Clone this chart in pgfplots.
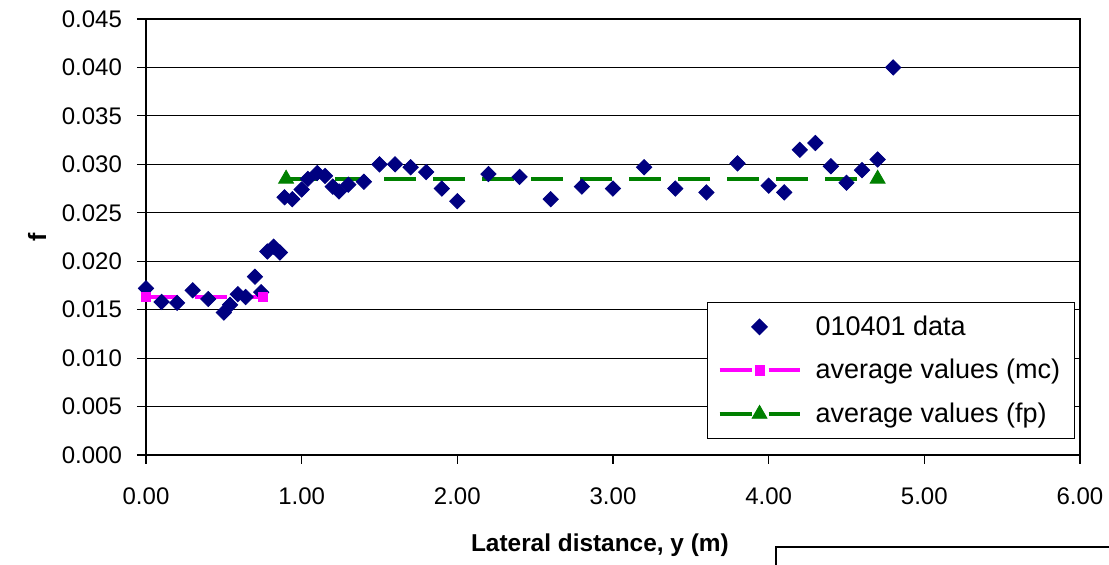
\documentclass[border=0pt]{standalone}
\usepackage{fontspec}
\setmainfont{Liberation Sans}
\usepackage{pgfplots}
\pgfplotsset{compat=1.18}
\definecolor{navy}{HTML}{000080}
\definecolor{mag}{HTML}{FF00FF}
\definecolor{grn}{HTML}{008000}
\begin{document}
\begin{tikzpicture}
\begin{axis}[
  scale only axis, width=467pt, height=218pt,
  xmin=0, xmax=6, ymin=0, ymax=0.045,
  xtick={0,1,2,3,4,5,6},
  ytick={0,0.005,0.010,0.015,0.020,0.025,0.030,0.035,0.040,0.045},
  /pgf/number format/assume math mode=true,
  xticklabel style={/pgf/number format/fixed, /pgf/number format/fixed zerofill, /pgf/number format/precision=2},
  yticklabel style={/pgf/number format/fixed, /pgf/number format/fixed zerofill, /pgf/number format/precision=3},
  scaled y ticks=false,
  ymajorgrids, grid style={black, line width=0.6pt},
  axis line style={black, line width=0.7pt},
  tick align=outside, xtick pos=bottom, ytick pos=left,
  major tick length=4.5pt, tick style={black, line width=0.6pt},
  ticklabel style={font=\fontsize{12}{14}\selectfont},
  xticklabel style={anchor=center, yshift=-16pt},
  yticklabel style={anchor=east, xshift=-4pt},
  xlabel={Lateral distance, y (m)},
  ylabel={f},
  every axis x label/.style={at={(axis description cs:0.486,-0.206)}, anchor=center, font=\fontsize{12.2}{14}\selectfont\bfseries},
  every axis y label/.style={at={(axis description cs:-0.1167,0.5)}, rotate=90, anchor=center, font=\fontsize{12.5}{14}\selectfont\bfseries},
  legend style={at={(0.6006,0.3509)}, anchor=north west, draw=black, line width=0.6pt, fill=white,
    font=\fontsize{13.5}{15}\selectfont, row sep=6.5pt, inner xsep=5pt, inner ysep=4.5pt,
    /tikz/every odd column/.append style={column sep=5pt}},
  legend cell align=left,
  legend image code/.code={\draw[mark repeat=2,mark phase=2,#1] plot coordinates {(0pt,0pt) (20pt,0pt) (40pt,0pt)};},
]
\addplot[only marks, mark=square*, mark size=2.7pt, mark options={rotate=45, fill=navy, draw=navy}, color=navy] coordinates {
(0.00,0.0172) (0.10,0.0158) (0.20,0.0157) (0.30,0.0170) (0.40,0.0161) (0.50,0.0147) (0.54,0.0155)
(0.59,0.0166) (0.64,0.0163) (0.70,0.0184) (0.74,0.0168) (0.78,0.0210) (0.82,0.0215) (0.86,0.0209)
(0.89,0.0266) (0.94,0.0264) (1.00,0.0274) (1.04,0.0285) (1.10,0.0291) (1.15,0.0288) (1.20,0.0277)
(1.24,0.0272) (1.30,0.0279) (1.40,0.0282) (1.50,0.0300) (1.60,0.0300) (1.70,0.0297) (1.80,0.0292)
(1.90,0.0275) (2.00,0.0262) (2.20,0.0290) (2.40,0.0287) (2.60,0.0264) (2.80,0.0277) (3.00,0.0275)
(3.20,0.0297) (3.40,0.0275) (3.60,0.0271) (3.80,0.0301) (4.00,0.0278) (4.10,0.0271) (4.20,0.0315)
(4.30,0.0322) (4.40,0.0298) (4.50,0.0281) (4.60,0.0294) (4.70,0.0305) (4.80,0.0400)
};
\addlegendentry{010401 data}
\addplot[color=mag, line width=2pt, dash pattern=on 16pt off 8.5pt, mark=square*, mark size=2.3pt, mark options={solid, fill=mag, line width=0.4pt}] coordinates {
(0.00,0.01635) (0.75,0.01635)
};
\addlegendentry{average values (mc)}
\addplot[color=grn, line width=2pt, dash pattern=on 16pt off 8.5pt, mark=triangle*, mark size=4.3pt, mark options={solid, fill=grn, line width=0.4pt}] coordinates {
(0.90,0.0285) (4.70,0.0285)
};
\addlegendentry{average values (fp)}
\end{axis}
\draw[black, line width=0.6pt] (315pt,-60pt) -- (315pt,-46pt) -- (490pt,-46pt);
\pgfresetboundingbox
\useasboundingbox (-73pt,-55pt) rectangle (481.5pt,227.5pt);
\end{tikzpicture}
\end{document}
